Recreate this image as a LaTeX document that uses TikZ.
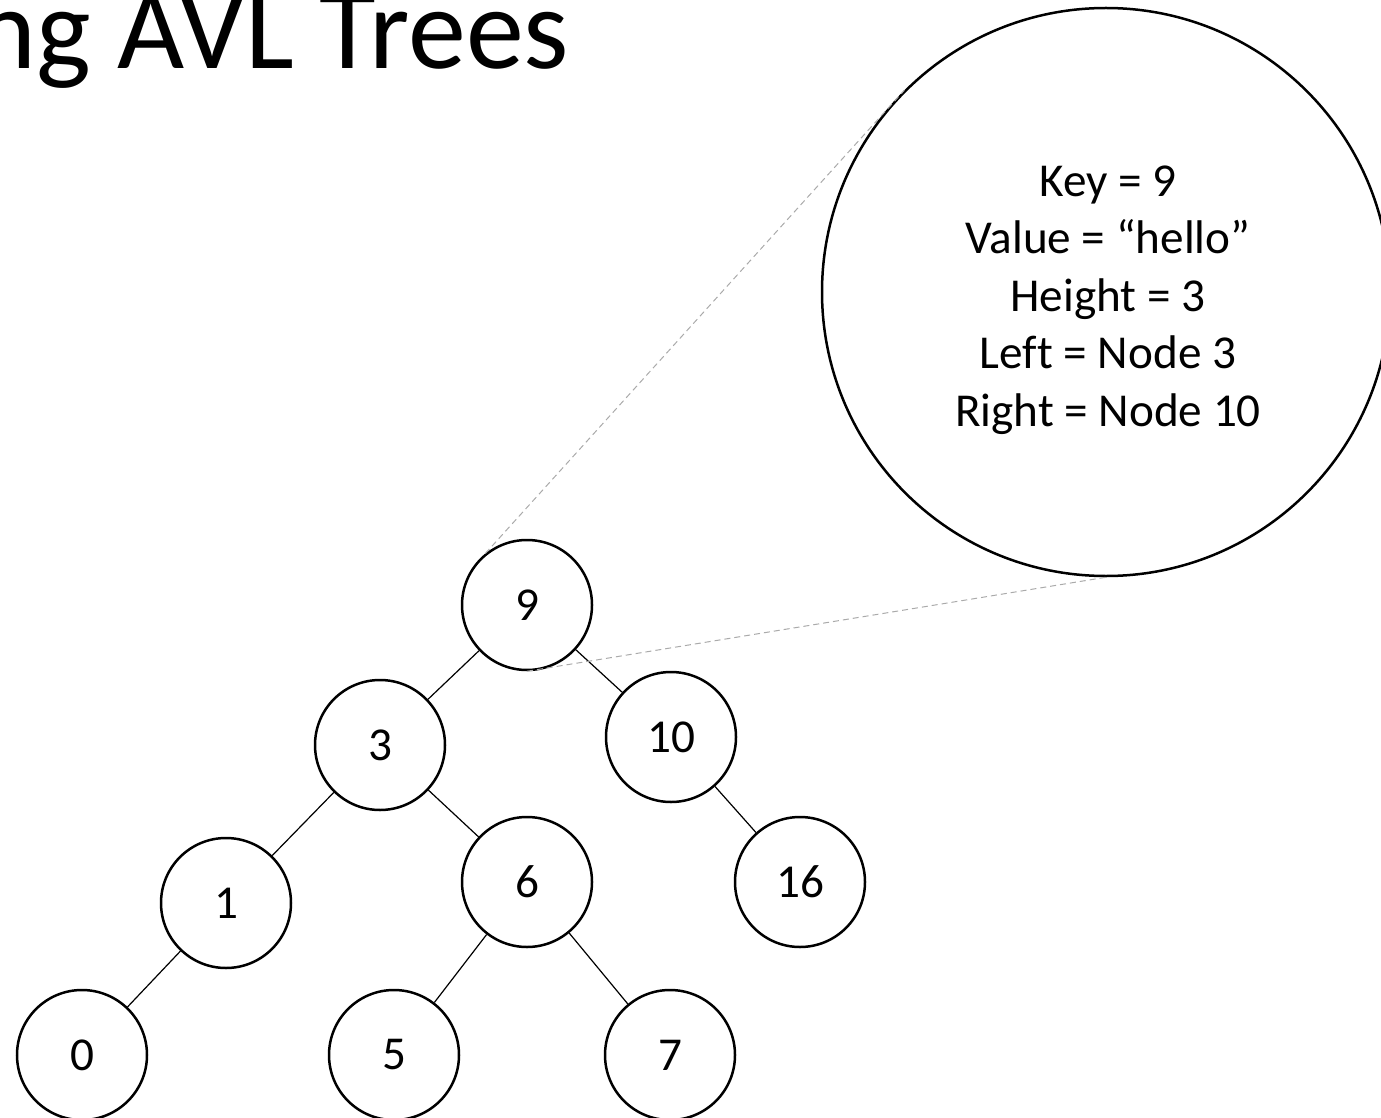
\documentclass[tikz,border=0pt]{standalone}
\usepackage{fontspec}
\setmainfont[Ligatures=CommonOff]{Carlito}
\definecolor{zoomgray}{RGB}{170,170,170}
\begin{document}
\begin{tikzpicture}[x=0.5pt,y=-0.5pt,
  treenode/.style={circle,draw,line width=1.25pt,minimum size=65pt,inner sep=0pt,
    font=\fontsize{23.6}{28.75}\selectfont},
  detailnode/.style={circle,draw,line width=1.25pt,minimum size=284pt,inner sep=0pt},
  infotext/.style={align=center,inner sep=0pt,font=\fontsize{23.6}{28.75}\selectfont},
  link/.style={line width=0.6pt},
  zoomline/.style={draw=zoomgray,line width=0.5pt,dash pattern=on 3pt off 2pt}]
\useasboundingbox (0,0) rectangle (1381,1118);
\clip (0,0) rectangle (1381,1118);

% slide title
\node[anchor=base west,inner sep=0pt,font=\fontsize{58}{60}\selectfont] (title) at (-25,69) {ng AVL Trees};

% tree
\node[treenode] (n9)  at (527,605)  {9};
\node[treenode] (n3)  at (380,745)  {3};
\node[treenode] (n10) at (671,737)  {10};
\node[treenode] (n1)  at (226,903)  {1};
\node[treenode] (n6)  at (527,882)  {6};
\node[treenode] (n16) at (800,882)  {16};
\node[treenode] (n0)  at (82,1055)  {0};
\node[treenode] (n5)  at (394,1055) {5};
\node[treenode] (n7)  at (670,1055) {7};

\draw[link] (n9) -- (n3);
\draw[link] (n9) -- (n10);
\draw[link] (n3) -- (n1);
\draw[link] (n3) -- (n6);
\draw[link] (n10) -- (n16);
\draw[link] (n1) -- (n0);
\draw[link] (n6) -- (n5);
\draw[link] (n6) -- (n7);

% magnified view of the root
\node[detailnode] (detail) at (1106,292) {};
\node[infotext] (info) at (1108,300)
  {Key = 9\\Value = “hello”\\Height = 3\\Left = Node 3\\Right = Node 10};

\draw[zoomline] (n9.129) -- (detail.135);
\draw[zoomline] (n9.south) -- (detail.south);
\end{tikzpicture}
\end{document}
